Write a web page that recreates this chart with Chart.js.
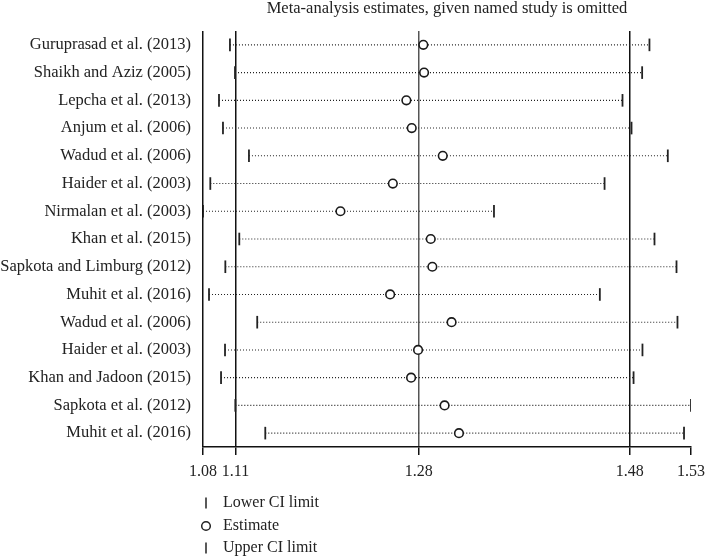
<!DOCTYPE html>
<html>
<head>
<meta charset="utf-8">
<script src="https://cdn.jsdelivr.net/npm/chart.js@4.4.1/dist/chart.umd.min.js"></script>
<style>
    html, body { margin: 0; padding: 0; background: #fff; }
    #wrap { width: 705px; height: 557px; }
</style>
</head>
<body>
<div id="wrap"><canvas id="infChart"></canvas></div>
<script>
const studies = [
    'Guruprasad et al. (2013)', 'Shaikh and Aziz (2005)', 'Lepcha et al. (2013)',
    'Anjum et al. (2006)', 'Wadud et al. (2006)', 'Haider et al. (2003)',
    'Nirmalan et al. (2003)', 'Khan et al. (2015)', 'Sapkota and Limburg (2012)',
    'Muhit et al. (2016)', 'Wadud et al. (2006)', 'Haider et al. (2003)',
    'Khan and Jadoon (2015)', 'Sapkota et al. (2012)', 'Muhit et al. (2016)'
];
const lower = [1.1048, 1.1095, 1.0946, 1.0983, 1.1225, 1.0865, 1.0797, 1.1135,
    1.1005, 1.0853, 1.1302, 1.1002, 1.0965, 1.1098, 1.1377];
const estimate = [1.2849, 1.2856, 1.2691, 1.2741, 1.3030, 1.2565, 1.2077, 1.2918,
    1.2933, 1.2540, 1.3112, 1.2800, 1.2735, 1.3047, 1.3181];
const upper = [1.4955, 1.4887, 1.4704, 1.4788, 1.5126, 1.4537, 1.3507, 1.5002,
    1.5207, 1.4493, 1.5216, 1.4890, 1.4807, 1.5342, 1.5277];
// axis ticks: min lower, overall CI lower, overall estimate, overall CI upper, max upper
const tickValues = [1.0797, 1.1100, 1.2807, 1.4772, 1.5342];
const legendLabels = ['Lower CI limit', 'Estimate', 'Upper CI limit'];

const serif = '"Liberation Serif", "DejaVu Serif", serif';

// one dotted line per study, row index used as y
const ciLines = studies.map((s, i) => ({
    showLine: true,
    data: [{ x: lower[i], y: i }, { x: upper[i], y: i }],
    borderColor: '#222',
    borderWidth: 1.1,
    borderDash: [1, 2],
    pointRadius: 0,
    order: 3
}));

const legendPlugin = {
    id: 'sideLegend',
    afterDraw(chart) {
        const c = chart.ctx;
        const x0 = chart.chartArea.left + 3;
        const ys = [503, 526, 548];
        c.save();
        c.strokeStyle = '#222';
        c.lineWidth = 1.5;
        c.fillStyle = '#222';
        c.font = '16px ' + serif;
        c.textBaseline = 'middle';
        legendLabels.forEach((t, i) => {
            const y = ys[i];
            c.beginPath();
            if (i === 1) {
                c.arc(x0, y, 4.3, 0, Math.PI * 2);
            } else {
                c.moveTo(x0, y - 5.5);
                c.lineTo(x0, y + 5.5);
            }
            c.stroke();
            c.fillText(t, x0 + 17, y);
        });
        c.restore();
    }
};

new Chart(document.getElementById('infChart').getContext('2d'), {
    type: 'scatter',
    data: {
        datasets: [
            {
                label: 'Estimate',
                data: studies.map((s, i) => ({ x: estimate[i], y: i })),
                pointStyle: 'circle',
                pointRadius: 4.3,
                borderWidth: 1.6,
                borderColor: '#1a1a1a',
                backgroundColor: '#fff',
                order: 1
            },
            {
                label: 'Lower CI limit',
                data: studies.map((s, i) => ({ x: lower[i], y: i })),
                pointStyle: 'line',
                rotation: 90,
                pointRadius: 6.3,
                borderWidth: 1.8,
                borderColor: '#222',
                order: 2
            },
            {
                label: 'Upper CI limit',
                data: studies.map((s, i) => ({ x: upper[i], y: i })),
                pointStyle: 'line',
                rotation: 90,
                pointRadius: 6.3,
                borderWidth: 1.8,
                borderColor: '#222',
                order: 2
            },
            ...ciLines
        ]
    },
    options: {
        responsive: true,
        maintainAspectRatio: false,
        animation: false,
        layout: { padding: 0 },
        plugins: {
            legend: { display: false },
            tooltip: { enabled: false }
        },
        scales: {
            x: {
                type: 'linear',
                position: 'bottom',
                min: tickValues[0],
                max: tickValues[tickValues.length - 1],
                afterBuildTicks: (axis) => {
                    axis.ticks = tickValues.map(v => ({ value: v }));
                },
                afterFit: (axis) => {
                    axis.height = 110;
                    axis.paddingLeft = 0;
                    axis.paddingRight = 14;
                },
                ticks: {
                    autoSkip: false,
                    maxRotation: 0,
                    padding: 7,
                    color: '#222',
                    font: { family: serif, size: 16 },
                    callback: (v) => v.toFixed(2)
                },
                grid: {
                    color: (c) => c.index === 2 ? '#555' : (c.index < 4 ? '#111' : 'rgba(0,0,0,0)'),
                    lineWidth: 1.5,
                    tickColor: '#111',
                    tickLength: 8
                },
                border: { display: true, color: '#111', width: 1.5 }
            },
            x2: {
                type: 'linear',
                position: 'top',
                afterFit: (axis) => {
                    axis.height = 31;
                    axis.paddingLeft = 0;
                    axis.paddingRight = 0;
                },
                ticks: { display: false },
                grid: { display: false, drawTicks: false },
                border: { display: false },
                title: {
                    display: true,
                    text: 'Meta-analysis estimates, given named study is omitted',
                    color: '#222',
                    font: { family: serif, size: 16.5, lineHeight: 1 },
                    padding: { top: 0, bottom: 0 }
                }
            },
            y: {
                type: 'linear',
                min: -0.5,
                max: studies.length - 0.5,
                reverse: true,
                afterBuildTicks: (axis) => {
                    axis.ticks = studies.map((s, i) => ({ value: i }));
                },
                afterFit: (axis) => { axis.width = 203; },
                ticks: {
                    autoSkip: false,
                    padding: 12,
                    color: '#222',
                    font: { family: serif, size: 16.5 },
                    callback: (v) => studies[v]
                },
                grid: { display: false, drawTicks: false },
                border: { display: false }
            }
        }
    },
    plugins: [legendPlugin]
});
</script>
</body>
</html>
